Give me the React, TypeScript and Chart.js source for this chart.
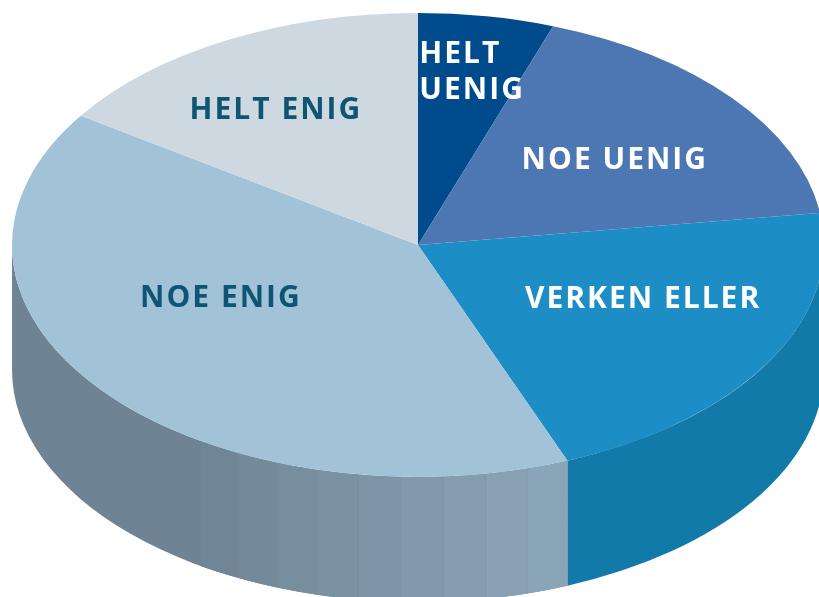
import React, { useEffect, useRef } from "react";
import { Chart, registerables } from "chart.js";

Chart.register(...registerables);

// ---- data ----
const categories = ["HELT UENIG", "NOE UENIG", "VERKEN ELLER", "NOE ENIG", "HELT ENIG"];
const values = [5.4, 17.4, 21.2, 40.4, 15.6];
const labelLines = [["HELT", "UENIG"], ["NOE UENIG"], ["VERKEN ELLER"], ["NOE ENIG"], ["HELT ENIG"]];

// ---- styles ----
const topColors = ["#004b8c", "#4d77b3", "#1c8ec5", "#a2c2d8", "#cdd8e1"];
const sideDark = ["#003a6e", "#3a5e90", "#127aa9", "#6e8393", "#a5b2bd"];
const sideLight = ["#003a6e", "#3a5e90", "#127aa9", "#8ca7b9", "#a5b2bd"];
const labelColors = ["#ffffff", "#ffffff", "#ffffff", "#0d5573", "#0d5573"];
// label placement: radius fraction + angle offset (deg) from slice mid-angle, alignment
const labelR = [0.766, 0.613, 0.598, 0.533, 0.686];
const labelDA = [0.3, 1.5, -8.2, 14.5, -2.6];
const labelAlign = ["left", "center", "center", "center", "center"];

const RX = 406;
const RY = 232;
const DEPTH = 125;
const FACET_DEG = 6;
const FONT = "bold 30px 'Open Sans', sans-serif";
const LINE_H = 36;
const TEXT_NUDGE = 2.5;

function hexToRgb(h: string) {
  const n = parseInt(h.slice(1), 16);
  return [(n >> 16) & 255, (n >> 8) & 255, n & 255];
}
function mix(a: string, b: string, t: number) {
  const A = hexToRgb(a), B = hexToRgb(b);
  const c = A.map((v, i) => Math.round(v + (B[i] - v) * t));
  return `rgb(${c[0]},${c[1]},${c[2]})`;
}

function sidePath(ctx: CanvasRenderingContext2D, cx: number, cy: number, rx: number, ry: number, a1: number, a2: number) {
  ctx.beginPath();
  ctx.ellipse(cx, cy, rx, ry, 0, a1, a2);
  ctx.ellipse(cx, cy + DEPTH, rx, ry, 0, a2, a1, true);
  ctx.closePath();
}

export default function App() {
  const ref = useRef<HTMLCanvasElement>(null);

  useEffect(() => {
    const canvas = ref.current!;
    const sy = RY / RX;

    const pie3d = {
      id: "pie3d",
      beforeDatasetsDraw(chart: any) {
        const ctx: CanvasRenderingContext2D = chart.ctx;
        const meta = chart.getDatasetMeta(0);
        let cx = 0, cy = 0;
        ctx.save();
        meta.data.forEach((arc: any, i: number) => {
          const p = arc.getProps(["x", "y", "startAngle", "endAngle", "outerRadius"], true);
          cx = p.x; cy = p.y;
          const rx = p.outerRadius;
          const ry = rx * sy;
          const TWO = Math.PI * 2;
          for (let k = -2; k <= 2; k++) {
            const lo = k * TWO, hi = k * TWO + Math.PI;
            const a1 = Math.max(p.startAngle, lo);
            const a2 = Math.min(p.endAngle, hi);
            if (a2 <= a1) continue;
            const b1 = a1 - k * TWO, b2 = a2 - k * TWO;
            ctx.fillStyle = sideDark[i];
            sidePath(ctx, cx, cy, rx, ry, b1, b2);
            ctx.fill();
            if (sideDark[i] === sideLight[i]) continue;
            const step = (FACET_DEG * Math.PI) / 180;
            for (let s = b1; s < b2 - 1e-6; s += step) {
              const e = Math.min(s + step, b2);
              const midDeg = (((s + e) / 2) * 180) / Math.PI;
              const t = Math.max(0, Math.min(1, (124 - midDeg) / (124 - 68)));
              if (t < 0.03) continue;
              ctx.fillStyle = mix(sideDark[i], sideLight[i], t);
              sidePath(ctx, cx, cy, rx, ry, s, e);
              ctx.fill();
            }
          }
        });
        ctx.translate(cx, cy);
        ctx.scale(1, sy);
        ctx.translate(-cx, -cy);
      },
      afterDatasetsDraw(chart: any) {
        const ctx: CanvasRenderingContext2D = chart.ctx;
        ctx.restore();
        const meta = chart.getDatasetMeta(0);
        ctx.save();
        ctx.font = FONT;
        (ctx as any).letterSpacing = "2px";
        ctx.textBaseline = "middle";
        meta.data.forEach((arc: any, i: number) => {
          const p = arc.getProps(["x", "y", "startAngle", "endAngle", "outerRadius"], true);
          const a = (p.startAngle + p.endAngle) / 2 + (labelDA[i] * Math.PI) / 180;
          const px = p.x + labelR[i] * p.outerRadius * Math.cos(a);
          const py = p.y + labelR[i] * p.outerRadius * sy * Math.sin(a) + TEXT_NUDGE;
          const lines = labelLines[i];
          ctx.fillStyle = labelColors[i];
          const widths = lines.map((l) => ctx.measureText(l).width);
          const w = Math.max(...widths);
          lines.forEach((l, j) => {
            const ly = py + (j - (lines.length - 1) / 2) * LINE_H;
            if (labelAlign[i] === "left") {
              ctx.textAlign = "left";
              ctx.fillText(l, px - w / 2, ly);
            } else {
              ctx.textAlign = "center";
              ctx.fillText(l, px, ly);
            }
          });
        });
        ctx.restore();
      },
    };

    const chart = new Chart(canvas, {
      type: "pie",
      data: {
        labels: categories,
        datasets: [
          {
            data: values,
            backgroundColor: topColors,
            borderWidth: 0,
            radius: RX,
            clip: false,
          } as any,
        ],
      },
      options: {
        animation: false,
        responsive: false,
        maintainAspectRatio: false,
        events: [],
        radius: RX,
        layout: { padding: { left: 17, right: 0, top: 0, bottom: 107 } },
        plugins: { legend: { display: false }, tooltip: { enabled: false } },
      } as any,
      plugins: [pie3d],
    });
    return () => chart.destroy();
  }, []);

  return (
    <div style={{ position: "fixed", left: 0, top: 0, width: 819, height: 597, overflow: "hidden", background: "#ffffff" }}>
      <canvas ref={ref} width={819} height={597} style={{ display: "block", width: 819, height: 597 }} />
    </div>
  );
}
